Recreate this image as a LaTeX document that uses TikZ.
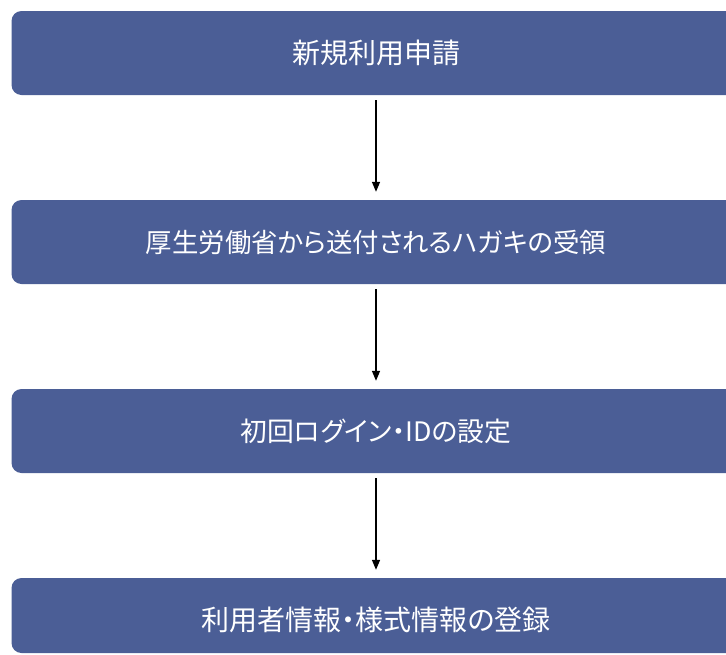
\documentclass[tikz,border=0pt]{standalone}
\usepackage{fontspec}
\newfontfamily\jpfont[RawFeature=+palt]{Noto Sans CJK JP}
\usetikzlibrary{arrows.meta}
\definecolor{boxblue}{RGB}{75,94,150}
\tikzset{
  boxtext/.style={text=white, font=\jpfont\fontsize{28pt}{32pt}\selectfont},
  stepbox/.style={boxtext, fill=boxblue, draw=none, rounded corners=10pt, minimum width=729pt, minimum height=84pt, inner sep=0pt},
  flowarrow/.style={draw=black, line width=1.5pt, -{Triangle[width=8pt,length=10pt]}, shorten <=5pt, shorten >=8pt}
}
\begin{document}
\begin{tikzpicture}[x=1pt,y=-1pt]
\useasboundingbox (0,0) rectangle (726,654);
\clip (0,0) rectangle (726,654);
\node[stepbox] (b1) at (376,53) {新規利用申請};
\node[stepbox, font=\jpfont\fontsize{26.4pt}{30pt}\selectfont] (b2) at (376,242) {厚生労働省から送付されるハガキの受領};
\node[stepbox, font=\jpfont\fontsize{26.8pt}{30pt}\selectfont] (b3) at (376,431) {初回ログイン・IDの設定};
\node[stepbox, minimum height=75pt] (b4) at (376,615.5) {};
\node[boxtext] (t4) at (376,620) {利用者情報・様式情報の登録};
\draw[flowarrow] (b1.south) -- (b2.north);
\draw[flowarrow] (b2.south) -- (b3.north);
\draw[flowarrow] (b3.south) -- (b4.north);
\end{tikzpicture}
\end{document}
